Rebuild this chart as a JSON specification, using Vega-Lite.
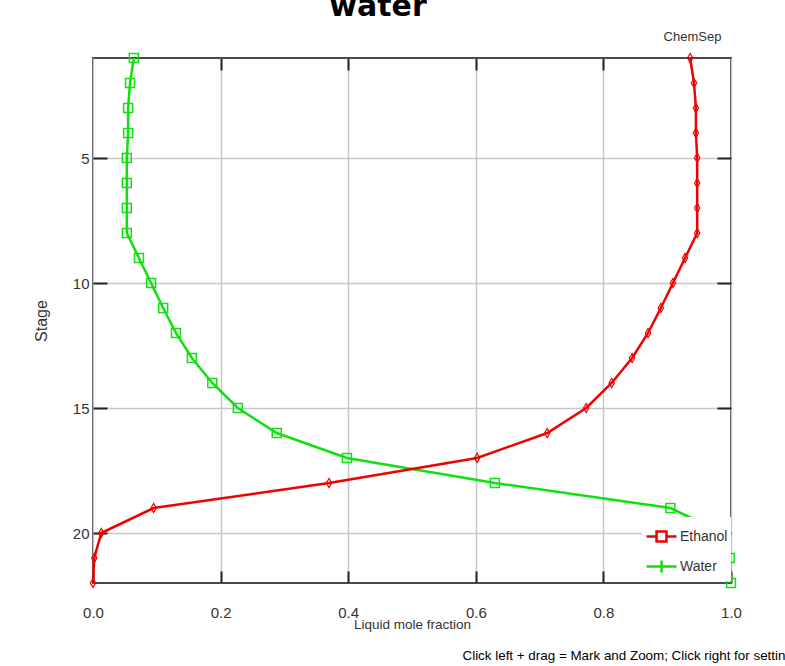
{
  "$schema": "https://vega.github.io/schema/vega-lite/v6.json",
  "width": 638,
  "height": 525,
  "autosize": {"type": "none"},
  "padding": {"left": 93, "top": 58, "right": 54, "bottom": 83},
  "background": "#ffffff",
  "title": {
    "text": "water",
    "font": "DejaVu Sans",
    "fontSize": 30,
    "fontWeight": "bold",
    "color": "#000000",
    "anchor": "middle",
    "frame": "group",
    "offset": 0,
    "dx": -34,
    "dy": -8
  },
  "config": {
    "view": {"stroke": "#4a4a4a", "strokeWidth": 2},
    "axis": {
      "labelFont": "Liberation Sans",
      "titleFont": "Liberation Sans",
      "labelColor": "#333333",
      "titleColor": "#333333",
      "titleFontWeight": "normal",
      "gridColor": "#c8c8c8",
      "gridWidth": 1.5,
      "tickColor": "#222222",
      "tickWidth": 2,
      "domain": false
    }
  },
  "data": {
    "values": [
      {"Stage": 1, "Series": "Water", "x": 0.064},
      {"Stage": 2, "Series": "Water", "x": 0.058},
      {"Stage": 3, "Series": "Water", "x": 0.055},
      {"Stage": 4, "Series": "Water", "x": 0.055},
      {"Stage": 5, "Series": "Water", "x": 0.053},
      {"Stage": 6, "Series": "Water", "x": 0.053},
      {"Stage": 7, "Series": "Water", "x": 0.053},
      {"Stage": 8, "Series": "Water", "x": 0.053},
      {"Stage": 9, "Series": "Water", "x": 0.072},
      {"Stage": 10, "Series": "Water", "x": 0.091},
      {"Stage": 11, "Series": "Water", "x": 0.110},
      {"Stage": 12, "Series": "Water", "x": 0.130},
      {"Stage": 13, "Series": "Water", "x": 0.155},
      {"Stage": 14, "Series": "Water", "x": 0.187},
      {"Stage": 15, "Series": "Water", "x": 0.227},
      {"Stage": 16, "Series": "Water", "x": 0.288},
      {"Stage": 17, "Series": "Water", "x": 0.398},
      {"Stage": 18, "Series": "Water", "x": 0.630},
      {"Stage": 19, "Series": "Water", "x": 0.905},
      {"Stage": 20, "Series": "Water", "x": 0.987},
      {"Stage": 21, "Series": "Water", "x": 0.998},
      {"Stage": 22, "Series": "Water", "x": 1.000},
      {"Stage": 1, "Series": "Ethanol", "x": 0.936},
      {"Stage": 2, "Series": "Ethanol", "x": 0.942},
      {"Stage": 3, "Series": "Ethanol", "x": 0.945},
      {"Stage": 4, "Series": "Ethanol", "x": 0.945},
      {"Stage": 5, "Series": "Ethanol", "x": 0.947},
      {"Stage": 6, "Series": "Ethanol", "x": 0.947},
      {"Stage": 7, "Series": "Ethanol", "x": 0.947},
      {"Stage": 8, "Series": "Ethanol", "x": 0.947},
      {"Stage": 9, "Series": "Ethanol", "x": 0.928},
      {"Stage": 10, "Series": "Ethanol", "x": 0.909},
      {"Stage": 11, "Series": "Ethanol", "x": 0.890},
      {"Stage": 12, "Series": "Ethanol", "x": 0.870},
      {"Stage": 13, "Series": "Ethanol", "x": 0.845},
      {"Stage": 14, "Series": "Ethanol", "x": 0.813},
      {"Stage": 15, "Series": "Ethanol", "x": 0.773},
      {"Stage": 16, "Series": "Ethanol", "x": 0.712},
      {"Stage": 17, "Series": "Ethanol", "x": 0.602},
      {"Stage": 18, "Series": "Ethanol", "x": 0.370},
      {"Stage": 19, "Series": "Ethanol", "x": 0.095},
      {"Stage": 20, "Series": "Ethanol", "x": 0.013},
      {"Stage": 21, "Series": "Ethanol", "x": 0.002},
      {"Stage": 22, "Series": "Ethanol", "x": 0.000}
    ]
  },
  "resolve": {"axis": {"x": "independent", "y": "independent"}},
  "layer": [
    {
      "mark": {"type": "line", "strokeWidth": 2.5},
      "encoding": {
        "x": {
          "field": "x", "type": "quantitative",
          "scale": {"domain": [0, 1], "nice": false, "zero": false},
          "axis": {
            "orient": "bottom",
            "values": [0, 0.2, 0.4, 0.6, 0.8, 1.0],
            "format": ".1f",
            "grid": true,
            "tickSize": -12,
            "labelFontSize": 15,
            "labelBaseline": "top",
            "labelPadding": 34,
            "labelFlush": false,
            "title": "Liquid mole fraction",
            "titleFontSize": 13.5,
            "titlePadding": -3
          }
        },
        "y": {
          "field": "Stage", "type": "quantitative",
          "scale": {"domain": [1, 22], "reverse": true, "nice": false, "zero": false},
          "axis": {
            "orient": "left",
            "values": [5, 10, 15, 20],
            "grid": true,
            "tickSize": -14,
            "labelFontSize": 15,
            "labelPadding": 18,
            "title": "Stage",
            "titleFontSize": 16,
            "titlePadding": 23
          }
        },
        "color": {
          "field": "Series", "type": "nominal",
          "scale": {"domain": ["Ethanol", "Water"], "range": ["#f00000", "#10e010"]},
          "legend": {
            "orient": "none",
            "legendX": 549,
            "legendY": 459,
            "title": null,
            "fillColor": "#ffffff",
            "padding": 3,
            "symbolSize": 900,
            "symbolStrokeWidth": 2.5,
            "symbolType": "M-1,0H1",
            "rowPadding": 3,
            "labelFont": "Liberation Sans",
            "labelFontSize": 14,
            "labelColor": "#333333",
            "labelOffset": 2,
            "encode": {
              "symbols": {
                "update": {
                  "shape": {"signal": "datum.value === 'Ethanol' ? 'M-1,0H-0.33M0.33,0H1M-0.33,-0.33H0.33V0.33H-0.33Z' : 'M-1,0H1M0,-0.4V0.4'"},
                  "fill": {"value": "transparent"}
                }
              }
            }
          }
        },
        "order": {"field": "Stage", "type": "quantitative"}
      }
    },
    {
      "transform": [{"filter": "datum.Series === 'Ethanol'"}],
      "mark": {"type": "point", "filled": false, "strokeWidth": 1.2, "opacity": 1, "shape": "M-0.6,0L0,-1L0.6,0L0,1Z", "size": 80},
      "encoding": {
        "x": {
          "field": "x", "type": "quantitative",
          "axis": {
            "orient": "top",
            "values": [0.2, 0.4, 0.6, 0.8],
            "labels": false,
            "grid": false,
            "tickSize": -12,
            "title": "ChemSep",
            "titleFontSize": 13,
            "titleX": 599,
            "titleY": -18,
            "titleBaseline": "alphabetic"
          }
        },
        "y": {
          "field": "Stage", "type": "quantitative",
          "axis": {
            "orient": "right",
            "values": [5, 10, 15, 20],
            "labels": false,
            "grid": false,
            "tickSize": -14,
            "title": "Click left + drag = Mark and Zoom; Click right for settings",
            "titleFontSize": 13.4,
            "titleColor": "#000000",
            "titleAngle": 0,
            "titleAlign": "left",
            "titleBaseline": "alphabetic",
            "titleX": -269,
            "titleY": 601
          }
        },
        "color": {"field": "Series", "type": "nominal", "legend": null}
      }
    },
    {
      "transform": [{"filter": "datum.Series === 'Water'"}],
      "mark": {"type": "point", "filled": false, "strokeWidth": 1.5, "opacity": 1, "shape": "square", "size": 80},
      "encoding": {
        "x": {"field": "x", "type": "quantitative", "axis": null},
        "y": {"field": "Stage", "type": "quantitative", "axis": null},
        "color": {"field": "Series", "type": "nominal", "legend": null}
      }
    }
  ]
}
